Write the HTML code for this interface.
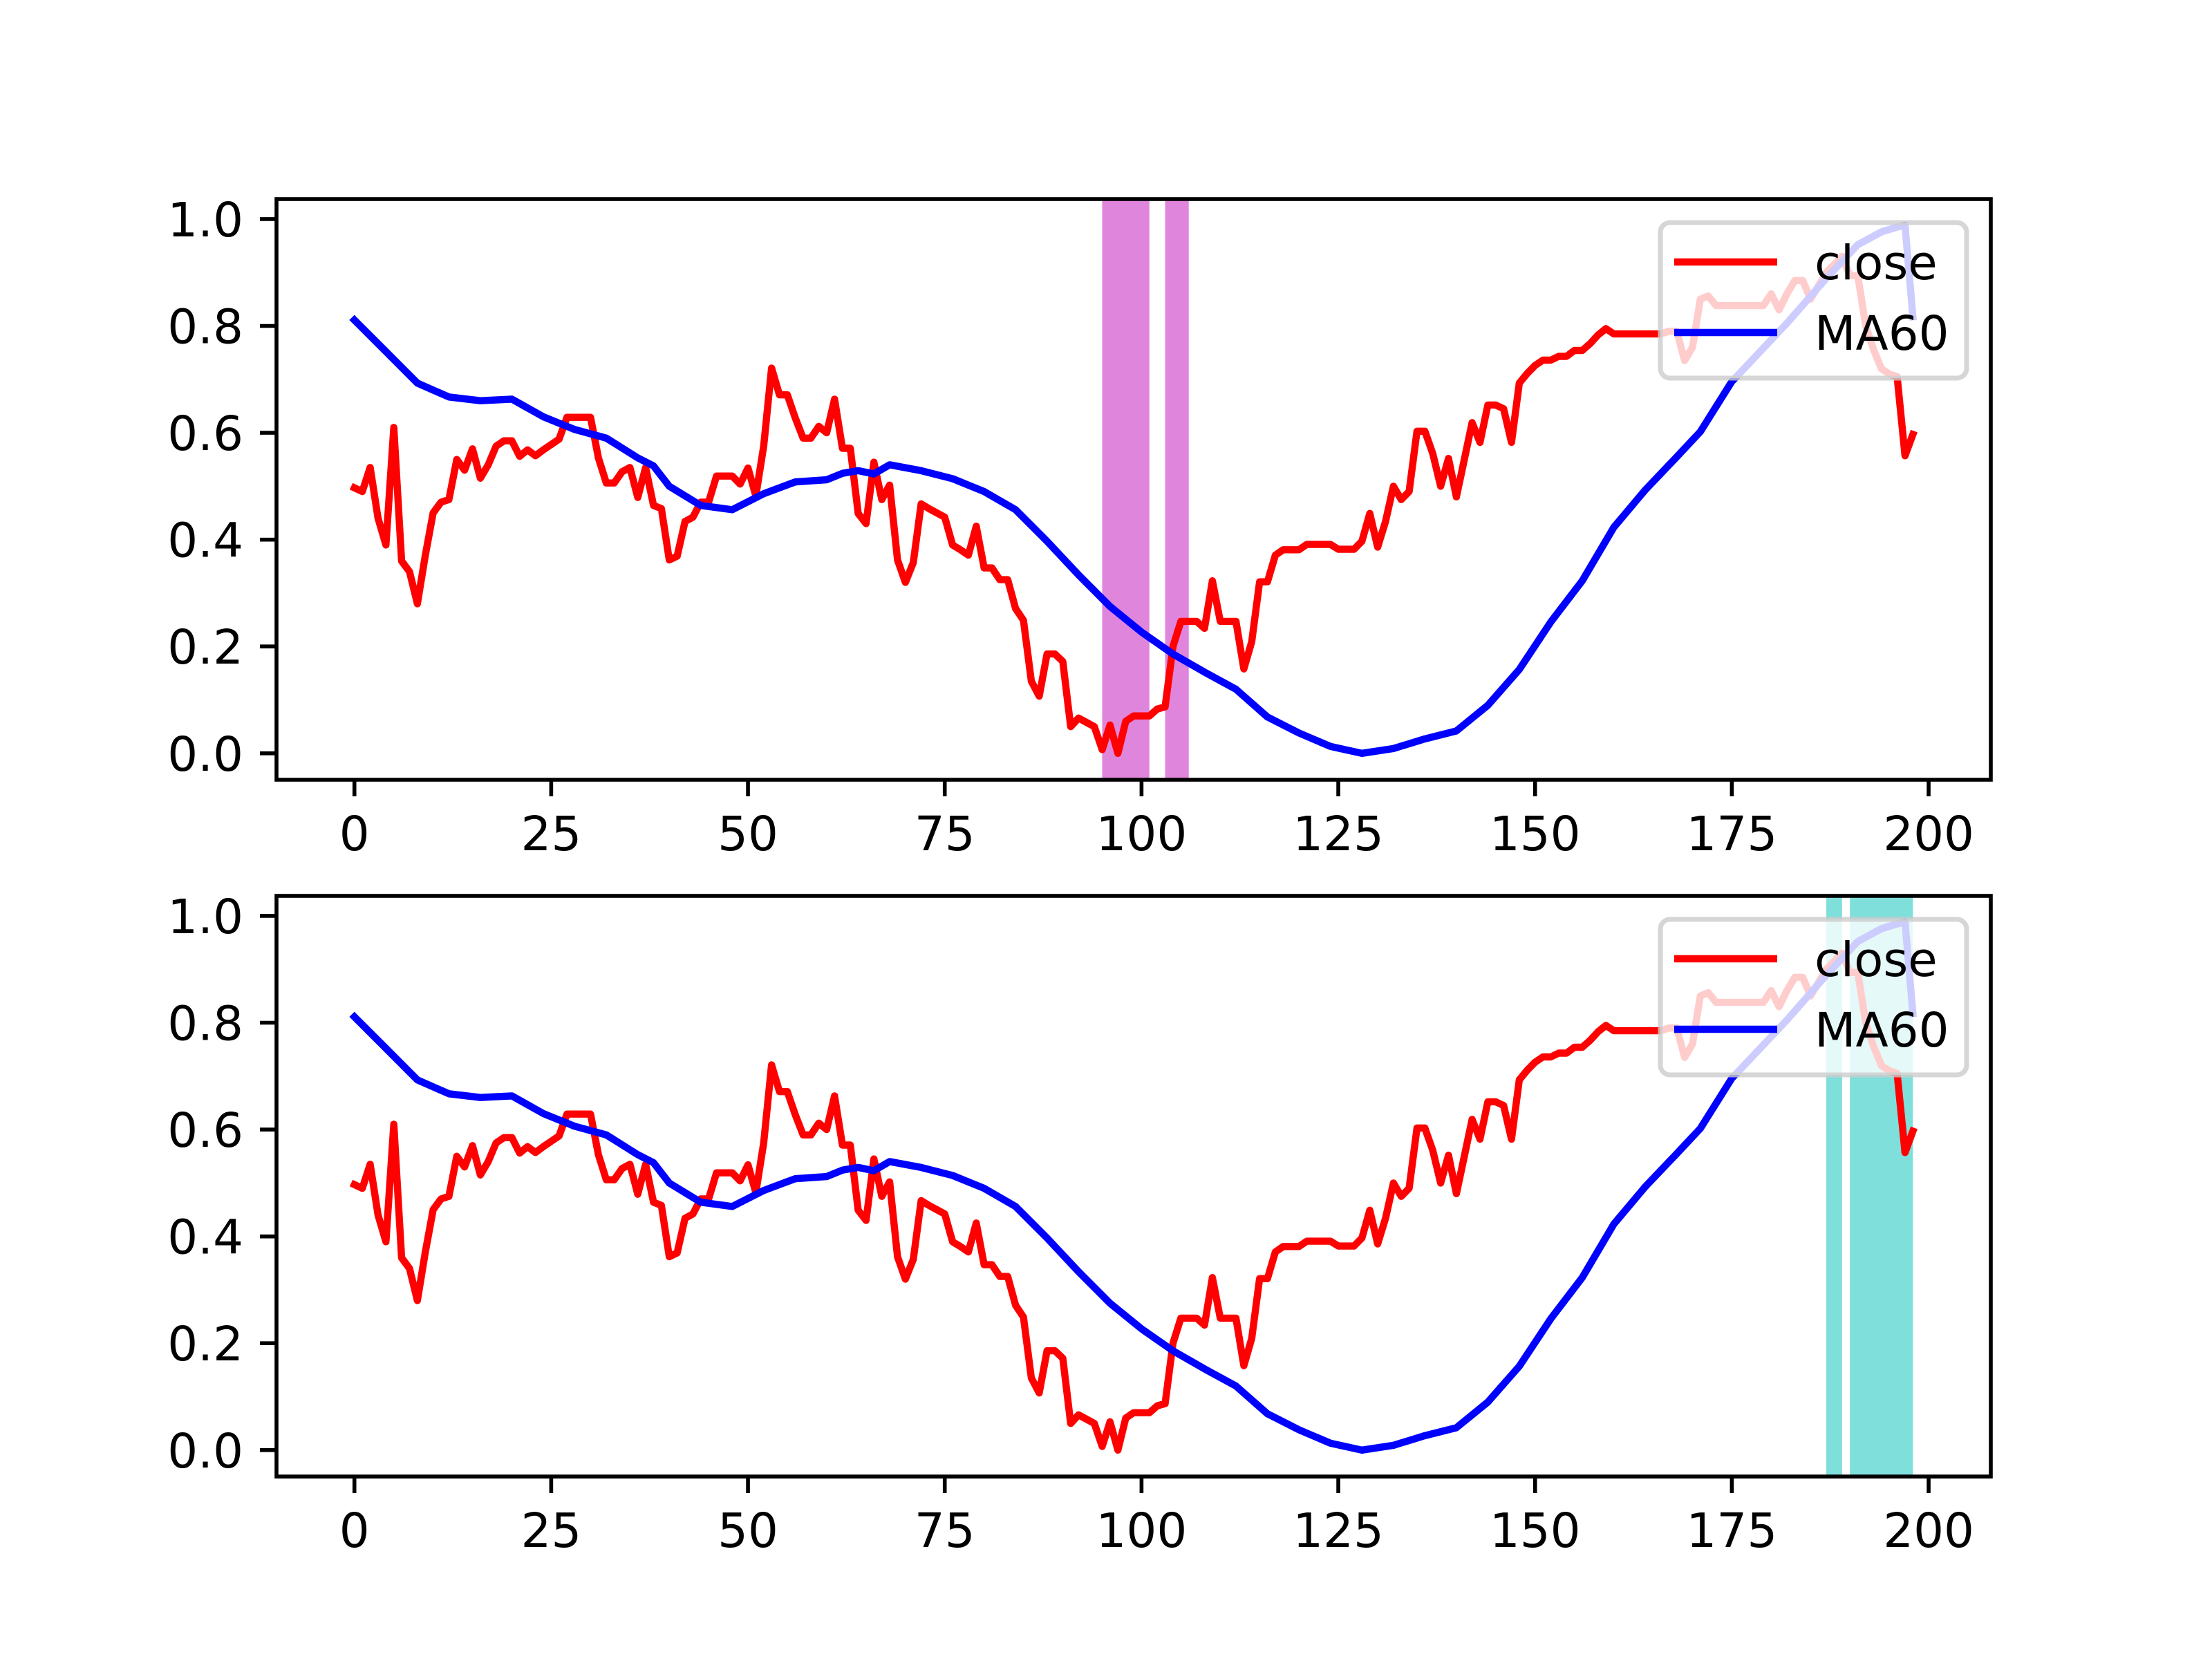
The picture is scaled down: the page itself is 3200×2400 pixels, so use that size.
<!DOCTYPE html>
<html><head><meta charset="utf-8"><style>
html,body{margin:0;padding:0;background:#fff;}
svg{display:block;font-family:"DejaVu Sans","Liberation Sans",sans-serif;}
</style></head><body>
<svg id="fig" width="3200" height="2400" viewBox="0 0 3200 2400" xmlns="http://www.w3.org/2000/svg">
<rect x="0" y="0" width="3200" height="2400" fill="#fff"/>
</svg>
<script>
const closeVals = [0.497,0.49,0.535,0.44,0.39,0.61,0.36,0.34,0.28,0.37,0.45,0.47,0.475,0.55,0.53,0.57,0.515,0.54,0.575,0.585,
0.585,0.556,0.568,0.557,0.568,0.578,0.588,0.629,0.629,0.629,0.629,0.553,0.506,0.506,0.527,0.535,0.479,0.535,0.464,0.458,
0.362,0.369,0.434,0.442,0.47,0.47,0.519,0.519,0.519,0.504,0.534,0.482,0.575,0.721,0.671,0.671,0.628,0.59,0.59,0.612,
0.6,0.663,0.571,0.571,0.449,0.43,0.545,0.475,0.502,0.362,0.32,0.357,0.467,0.458,0.45,0.442,0.39,0.381,0.371,0.425,
0.347,0.347,0.325,0.325,0.271,0.249,0.135,0.107,0.186,0.186,0.172,0.05,0.066,0.058,0.05,0.007,0.053,0,0.06,0.07,
0.07,0.07,0.083,0.087,0.2,0.247,0.247,0.247,0.234,0.323,0.247,0.247,0.247,0.158,0.209,0.321,0.321,0.371,0.381,0.381,
0.381,0.391,0.391,0.391,0.391,0.382,0.382,0.382,0.397,0.449,0.386,0.434,0.5,0.475,0.49,0.603,0.603,0.561,0.5,0.552,
0.48,0.549,0.619,0.582,0.652,0.652,0.645,0.582,0.693,0.711,0.726,0.736,0.736,0.743,0.743,0.754,0.754,0.767,0.783,0.795,
0.785,0.785,0.785,0.785,0.785,0.785,0.785,0.79,0.79,0.735,0.76,0.85,0.856,0.838,0.838,0.838,0.838,0.838,0.838,0.838,
0.86,0.83,0.86,0.885,0.885,0.85,0.875,0.9,0.915,0.93,0.894,0.894,0.8,0.756,0.72,0.71,0.705,0.557,0.597];
const maIdx = [0,4,8,12,16,20,24,28,32,36,38,40,44,48,52,56,60,62,64,66,68,72,76,80,84,88,92,96,100,104,108,112,116,120,124,128,132,136,140,144,148,152,156,160,164,168,171,175,182,187,191,194,196,197,198];
const maVals = [0.811,0.752,0.693,0.667,0.66,0.663,0.63,0.606,0.59,0.553,0.538,0.5,0.464,0.456,0.486,0.508,0.512,0.524,0.529,0.523,0.54,0.529,0.514,0.49,0.456,0.397,0.334,0.275,0.227,0.186,0.152,0.12,0.068,0.038,0.013,0,0.009,0.027,0.042,0.09,0.157,0.246,0.323,0.423,0.493,0.555,0.602,0.696,0.805,0.889,0.952,0.976,0.985,0.988,0.817];
const topSpans = [[95,101],[103,106]];
const bottomSpans = [[187,189],[190,198]];
const xTicks = [0,25,50,75,100,125,150,175,200];
const yTicks = [0,0.2,0.4,0.6,0.8,1.0];
const yTickLabels = ["0.0","0.2","0.4","0.6","0.8","1.0"];
const legendLabels = ["close","MA60"];

const NS = "http://www.w3.org/2000/svg";
const svg = document.getElementById('fig');
function mk(tag, attrs, parent){
  const e = document.createElementNS(NS, tag);
  for (const k in attrs) e.setAttribute(k, attrs[k]);
  (parent||svg).appendChild(e);
  return e;
}
const AX_L = 400, AX_R = 2880;
const n = closeVals.length;
const xMin = 0 - 0.05*(n-1), xMax = (n-1) + 0.05*(n-1);
const allV = closeVals.concat(maVals);
const dMin = Math.min(...allV), dMax = Math.max(...allV);
const yMin = dMin - 0.05*(dMax-dMin), yMax = dMax + 0.05*(dMax-dMin);
function xs(v){ return AX_L + (v - xMin)/(xMax - xMin)*(AX_R-AX_L); }

function drawPanel(top, bottom, spans, spanColor, spanOpacity, prefix){
  const ys = v => bottom - (v - yMin)/(yMax - yMin)*(bottom-top);
  const g = mk('g', {});
  
  
  const clipId = prefix + '-clip';
  const cp = mk('clipPath', {id: clipId}, g);
  mk('rect', {x: AX_L, y: top, width: AX_R-AX_L, height: bottom-top}, cp);
  const plot = mk('g', {'clip-path': 'url(#' + clipId + ')'}, g);
  spans.forEach((s, k) => {
    const r = mk('rect', {x: xs(s[0]), y: top, width: xs(s[1]) - xs(s[0]), height: bottom-top, fill: spanColor, 'fill-opacity': spanOpacity}, plot);
    
    
  });
  const cp1 = closeVals.map((v,i) => xs(i).toFixed(1) + ',' + ys(v).toFixed(1)).join(' ');
  const l1 = mk('polyline', {points: cp1, fill: 'none', stroke: '#ff0000', 'stroke-width': 10.4, 'stroke-linejoin': 'round', 'stroke-linecap': 'square'}, plot);
  
  
  const cp2 = maVals.map((v,i) => xs(maIdx[i]).toFixed(1) + ',' + ys(v).toFixed(1)).join(' ');
  const l2 = mk('polyline', {points: cp2, fill: 'none', stroke: '#0000ff', 'stroke-width': 10.4, 'stroke-linejoin': 'round', 'stroke-linecap': 'square'}, plot);
  
  
  // ticks
  xTicks.forEach(t => {
    const x = xs(t);
    const tk = mk('line', {x1: x, y1: bottom, x2: x, y2: bottom + 24, stroke: '#000', 'stroke-width': 5.6}, g);
    
    
    const tx = mk('text', {x: x, y: bottom + 48 + 54, 'font-size': 69, 'text-anchor': 'middle', fill: '#000'}, g);
    tx.textContent = String(t);
    
    
  });
  yTicks.forEach((t, k) => {
    const y = ys(t);
    const tk = mk('line', {x1: AX_L - 24, y1: y, x2: AX_L, y2: y, stroke: '#000', 'stroke-width': 5.6}, g);
    
    
    const tx = mk('text', {x: AX_L - 48, y: y + 25, 'font-size': 69, 'text-anchor': 'end', fill: '#000'}, g);
    tx.textContent = yTickLabels[k];
    
    
  });
  const fr = mk('rect', {x: AX_L, y: top, width: AX_R-AX_L, height: bottom-top, fill: 'none', stroke: '#000', 'stroke-width': 5.6}, g);
  
  
  // legend
  const lg = mk('g', {}, g);
  
  
  const lt = top + 34;
  mk('rect', {x: 2402, y: lt, width: 443, height: 225, rx: 14, ry: 14, fill: '#fff', 'fill-opacity': 0.8, stroke: '#cccccc', 'stroke-opacity': 0.8, 'stroke-width': 7}, lg);
  const colors = ['#ff0000', '#0000ff'];
  legendLabels.forEach((lab, k) => {
    const e = mk('g', {}, lg);
    
    
    const yy = lt + 57 + k*102;
    mk('line', {x1: 2422, y1: yy, x2: 2571, y2: yy, stroke: colors[k], 'stroke-width': 10.4}, e);
    const t = mk('text', {x: 2625, y: yy + 25, 'font-size': 69, fill: '#000'}, e);
    t.textContent = lab;
  });
}
drawPanel(288, 1128, topSpans, '#DA70D6', 0.85, 'top');
drawPanel(1296, 2136, bottomSpans, '#48D1CC', 0.7, 'bottom');
</script>
</body></html>
